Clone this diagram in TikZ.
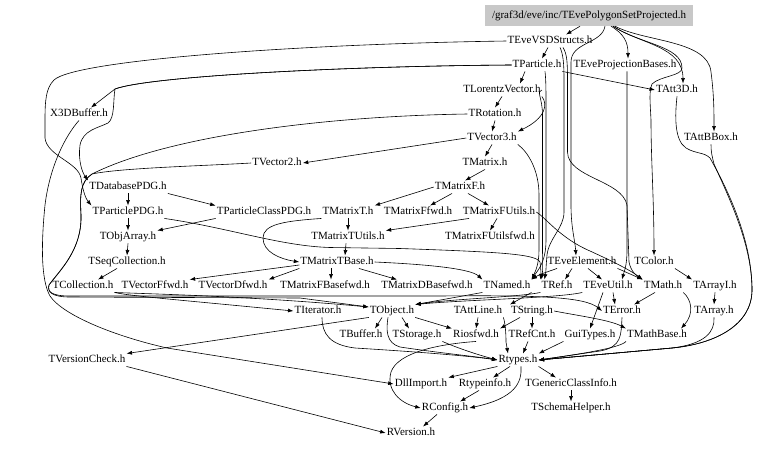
\documentclass[tikz,border=0pt]{standalone}
\usepackage{fontspec}
\setmainfont{Liberation Serif}
\usetikzlibrary{arrows.meta}
\definecolor{rootgray}{RGB}{200,200,200}
\newcommand\lblfont{\fontsize{11}{12}\selectfont}
\tikzset{
  hn/.style={inner sep=1pt, text height=8pt, text depth=2.5pt, font=\lblfont},
  rootn/.style={hn, fill=rootgray, minimum width=208pt, minimum height=21pt},
  edg/.style={draw=black, line width=0.6pt, -{Latex[length=5.5pt,width=4pt]}},
}
\begin{document}
\begin{tikzpicture}[x=1pt,y=-1pt]
\useasboundingbox (0,0) rectangle (779,448);
\fill[white] (0,0) rectangle (779,448);
% nodes
\node[rootn] (root) at (589,15.5) {/graf3d/eve/inc/TEvePolygonSetProjected.h};
\node[hn] (TEveVSDStructs) at (550,41) {TEveVSDStructs.h};
\node[hn] (TParticle) at (537,65) {TParticle.h};
\node[hn] (TEveProjectionBases) at (625,65) {TEveProjectionBases.h};
\node[hn] (X3DBuffer) at (79,114) {X3DBuffer.h};
\node[hn] (TLorentzVector) at (502,90) {TLorentzVector.h};
\node[hn] (TAtt3D) at (677,90) {TAtt3D.h};
\node[hn] (TRotation) at (495,114) {TRotation.h};
\node[hn] (TVector3) at (492,138) {TVector3.h};
\node[hn] (TAttBBox) at (711,138) {TAttBBox.h};
\node[hn] (TVector2) at (277,163) {TVector2.h};
\node[hn] (TMatrix) at (485,163) {TMatrix.h};
\node[hn] (TDatabasePDG) at (128,187) {TDatabasePDG.h};
\node[hn] (TMatrixF) at (460,187) {TMatrixF.h};
\node[hn] (TParticlePDG) at (128,212) {TParticlePDG.h};
\node[hn] (TParticleClassPDG) at (264,212) {TParticleClassPDG.h};
\node[hn] (TMatrixT) at (348,212) {TMatrixT.h};
\node[hn] (TMatrixFfwd) at (418,212) {TMatrixFfwd.h};
\node[hn] (TMatrixFUtils) at (499,212) {TMatrixFUtils.h};
\node[hn] (TObjArray) at (128,237) {TObjArray.h};
\node[hn] (TMatrixTUtils) at (348,237) {TMatrixTUtils.h};
\node[hn] (TMatrixFUtilsfwd) at (490,237) {TMatrixFUtilsfwd.h};
\node[hn] (TSeqCollection) at (127,262) {TSeqCollection.h};
\node[hn] (TMatrixTBase) at (337,262) {TMatrixTBase.h};
\node[hn] (TEveElement) at (582,262) {TEveElement.h};
\node[hn] (TColor) at (654,262) {TColor.h};
\node[hn] (TCollection) at (83,286) {TCollection.h};
\node[hn] (TVectorFfwd) at (155,286) {TVectorFfwd.h};
\node[hn] (TVectorDfwd) at (233,286) {TVectorDfwd.h};
\node[hn] (TMatrixFBasefwd) at (325,286) {TMatrixFBasefwd.h};
\node[hn] (TMatrixDBasefwd) at (427,286) {TMatrixDBasefwd.h};
\node[hn] (TNamed) at (507,286) {TNamed.h};
\node[hn] (TRef) at (557,286) {TRef.h};
\node[hn] (TEveUtil) at (608,286) {TEveUtil.h};
\node[hn] (TMath) at (663,286) {TMath.h};
\node[hn] (TArrayI) at (715,286) {TArrayI.h};
\node[hn] (TIterator) at (318,311) {TIterator.h};
\node[hn] (TObject) at (392,311) {TObject.h};
\node[hn] (TAttLine) at (478,311) {TAttLine.h};
\node[hn] (TString) at (532,311) {TString.h};
\node[hn] (TError) at (622,311) {TError.h};
\node[hn] (TArray) at (714,311) {TArray.h};
\node[hn] (TBuffer) at (361,335) {TBuffer.h};
\node[hn] (TStorage) at (417,335) {TStorage.h};
\node[hn] (Riosfwd) at (476,335) {Riosfwd.h};
\node[hn] (TRefCnt) at (532,335) {TRefCnt.h};
\node[hn] (GuiTypes) at (590,335) {GuiTypes.h};
\node[hn] (TMathBase) at (657,335) {TMathBase.h};
\node[hn] (TVersionCheck) at (87,360) {TVersionCheck.h};
\node[hn] (Rtypes) at (518,360) {Rtypes.h};
\node[hn] (DllImport) at (421,384) {DllImport.h};
\node[hn] (Rtypeinfo) at (485,384) {Rtypeinfo.h};
\node[hn] (TGenericClassInfo) at (571,384) {TGenericClassInfo.h};
\node[hn] (RConfig) at (445,408) {RConfig.h};
\node[hn] (TSchemaHelper) at (571,408) {TSchemaHelper.h};
\node[hn] (RVersion) at (411,433) {RVersion.h};
% root edges
\draw[edg] ([xshift=-9pt]root.south) -- ([xshift=16pt]TEveVSDStructs.north);
\draw[edg] ([xshift=22pt]root.south) .. controls (624,34) and (628,42) .. ([xshift=3pt]TEveProjectionBases.north);
\draw[edg] ([xshift=24pt]root.south) .. controls (640,44) and (683,46) .. ([xshift=6pt]TAtt3D.north);
\draw[edg] ([xshift=26pt]root.south) .. controls (645,42) and (708,40) .. (711,72) .. controls (714,95) and (714,112) .. ([xshift=3pt]TAttBBox.north);
\draw[edg] ([xshift=24pt]root.south) .. controls (640,44) and (682,46) .. (682,68) .. controls (682,76) and (660,76) .. (652,84) .. controls (649,92) and (650,100) .. (651,120) .. controls (651,160) and (654,200) .. (TColor.north);
\draw[edg] ([xshift=16pt]root.south) .. controls (602,44) and (571,42) .. (571,62) -- (571,205) .. controls (571,228) and (575,240) .. ([xshift=-6pt]TEveElement.north);
% TEveVSDStructs
\draw[edg] ([xshift=-2pt]TEveVSDStructs.south) -- ([xshift=5pt]TParticle.north);
\draw[edg] (TEveVSDStructs.west) .. controls (300,44) and (75,60) .. (54,80) .. controls (46,88) and (45,100) .. (45,120) -- (45,138) .. controls (47,156) and (78,162) .. (81,178) .. controls (83,192) and (86,199) .. (TParticlePDG.north west);
\draw[edg] ([xshift=10pt]TEveVSDStructs.south) .. controls (563,54) and (564,62) .. (564,80) -- (564,212) .. controls (564,228) and (549,238) .. (547,255) .. controls (546,266) and (546,272) .. ([xshift=4pt]TRef.north west);
\draw[edg] ([xshift=13pt]TEveVSDStructs.south) .. controls (567,54) and (567.5,62) .. (567.5,80) -- (567.5,152) .. controls (568,178) and (622,180) .. (627,205) -- (629,262) .. controls (631,272) and (637,276) .. (TMath.north west);
% TParticle
\draw[edg] ([xshift=-12pt]TParticle.south) -- ([xshift=18pt]TLorentzVector.north);
\draw[edg] (TParticle.west) .. controls (350,66) and (150,76) .. (115,89) -- ([xshift=12pt]X3DBuffer.north);
\draw[edg] (TParticle.west) .. controls (350,66) and (150,76) .. (115,89) .. controls (113,100) and (115,118) .. (108,123) .. controls (98,128) and (83,130) .. (80,145) .. controls (78,160) and (82,172) .. (TDatabasePDG.north west);
\draw[edg] (TParticle.south east) -- (TAtt3D.west);
\draw[edg] ([xshift=8pt]TParticle.south) .. controls (546,80) and (546,90) .. (546,110) -- (546,240) .. controls (546,262) and (538,270) .. (TNamed.north east);
\draw[edg] ([xshift=2pt]TEveProjectionBases.south) -- (627,250) .. controls (627,266) and (624,272) .. ([xshift=14pt]TEveUtil.north);
% TLorentzVector / TRotation / TVector3
\draw[edg] (TLorentzVector.south) -- (TRotation.north);
\draw[edg] (TLorentzVector.south east) .. controls (548,104) and (546,118) .. (TVector3.north east);
\draw[edg] (TLorentzVector.east) .. controls (536,91) and (542.5,98) .. (542.5,115) -- (542.5,245) .. controls (542.5,262) and (543,270) .. ([xshift=1pt]TRef.north west);
\draw[edg] (TRotation.south) -- (TVector3.north);
\draw[edg] (TRotation.west) .. controls (330,116) and (170,135) .. (92,174) .. controls (80,182) and (80,195) .. (81,215) .. controls (82,250) and (60,270) .. (49,285) .. controls (47,292) and (52,297) .. (70,297) -- (300,298) -- ([yshift=4pt]TObject.west);
\draw[edg] (TVector3.south) -- (TMatrix.north);
\draw[edg] (TVector3.west) -- (TVector2.east);
\draw[edg] (TVector3.south east) .. controls (528,152) and (539,170) .. (539,195) -- (539,250) .. controls (539,265) and (535,272) .. (TNamed.north east);
\draw[edg] (TVector2.west) .. controls (200,166) and (120,168) .. (92,174) .. controls (80,182) and (80,195) .. (81,215) .. controls (82,250) and (60,270) .. (49,285) .. controls (47,292) and (52,296) .. (70,296) -- (440,296) .. controls (540,295) and (585,297) .. (TError.west);
% matrix
\draw[edg] (TMatrix.south) -- ([xshift=5pt]TMatrixF.north);
\draw[edg] (TMatrixF.west) -- (TMatrixT.north east);
\draw[edg] ([xshift=-8pt]TMatrixF.south) -- ([xshift=12pt]TMatrixFfwd.north);
\draw[edg] ([xshift=8pt]TMatrixF.south) -- ([xshift=-10pt]TMatrixFUtils.north);
\draw[edg] ([xshift=-2pt]TMatrixFUtils.south) -- (TMatrixFUtilsfwd.north);
\draw[edg] ([xshift=-30pt]TMatrixFUtils.south) -- (TMatrixTUtils.north east);
\draw[edg] (TMatrixFUtils.east) .. controls (546,218) and (560,238) .. (590,251) .. controls (612,261) and (630,270) .. (TMath.north west);
\draw[edg] (TMatrixT.south) -- (TMatrixTUtils.north);
\draw[edg] (TMatrixT.south west) .. controls (285,221) and (263,224) .. (263,238) .. controls (263,252) and (280,259) .. (TMatrixTBase.west);
\draw[edg] ([xshift=-2pt]TMatrixTUtils.south) -- ([xshift=8pt]TMatrixTBase.north);
\draw[edg] ([yshift=-3pt]TMatrixTBase.west) -- (TVectorFfwd.north east);
\draw[edg] (TMatrixTBase.south west) -- (TVectorDfwd.north east);
\draw[edg] ([xshift=-6pt]TMatrixTBase.south) -- ([xshift=6pt]TMatrixFBasefwd.north);
\draw[edg] ([xshift=22pt]TMatrixTBase.south) -- ([xshift=-30pt]TMatrixDBasefwd.north);
\draw[edg] (TMatrixTBase.east) .. controls (420,264) and (470,268) .. (TNamed.north west);
% PDG / collections
\draw[edg] (TDatabasePDG.south) -- (TParticlePDG.north);
\draw[edg] (TDatabasePDG.south east) -- (TParticleClassPDG.north west);
\draw[edg] (TParticlePDG.south) -- (TObjArray.north);
\draw[edg] (TParticlePDG.south east) .. controls (230,228) and (280,246) .. (330,247.5) -- (400,248.5) .. controls (500,252) and (536,254) .. (540,262) .. controls (541,270) and (541,274) .. (TRef.north west);
\draw[edg] (TParticleClassPDG.south west) -- (TObjArray.north east);
\draw[edg] (TObjArray.south) -- (TSeqCollection.north);
\draw[edg] ([xshift=-10pt]TSeqCollection.south) -- ([xshift=15pt]TCollection.north);
\draw[edg] (TCollection.south east) .. controls (130,296) and (170,299) .. (TIterator.west);
\draw[edg] (TCollection.south east) .. controls (150,294) and (250,296) .. ([yshift=4pt]TObject.west);
\draw[edg] (X3DBuffer.south) .. controls (66,135) and (50,165) .. (45,205) .. controls (41,245) and (41,280) .. (50,296) .. controls (62,314) and (110,335) .. (167,348) -- (DllImport.west);
% TEveElement row
\draw[edg] ([xshift=-10pt]TEveElement.south) -- ([xshift=8pt]TRef.north);
\draw[edg] ([xshift=6pt]TEveElement.south) -- ([xshift=-6pt]TEveUtil.north);
\draw[edg] ([xshift=-25pt]TEveElement.south) .. controls (550,271) and (540,274) .. (TNamed.north east);
\draw[edg] (TEveElement.south east) -- (TMath.north west);
\draw[edg] (TColor.south east) -- (TArrayI.north west);
% row 286 -> 311
\draw[edg] (TNamed.south west) -- (TObject.north east);
\draw[edg] (TRef.south west) .. controls (520,297) and (450,299) .. (TObject.north east);
\draw[edg] (TEveUtil.south west) .. controls (560,298) and (460,300) .. (TObject.north east);
\draw[edg] (TNamed.south east) -- (TString.north west);
\draw[edg] ([xshift=5pt]TEveUtil.south) -- ([xshift=-7pt]TError.north);
\draw[edg] ([xshift=-5pt]TEveUtil.south) -- (GuiTypes.north);
\draw[edg] ([xshift=-8pt]TMath.south) -- ([xshift=12pt]TError.north);
\draw[edg] (TMath.south east) .. controls (692,300) and (694,314) .. ([xshift=24pt]TMathBase.north);
\draw[edg] (TArrayI.south) -- (TArray.north);
% row 311 -> 335
\draw[edg] (TString.east) .. controls (580,316) and (610,320) .. (TMathBase.north west);
\draw[edg] (TString.south) -- (TRefCnt.north);
\draw[edg] ([xshift=-12pt]TString.south) -- (Riosfwd.north east);
\draw[edg] (TAttLine.south) -- (Riosfwd.north);
\draw[edg] (TAttLine.south east) .. controls (505,322) and (506,332) .. (506,342) -- ([xshift=-10pt]Rtypes.north);
\draw[edg] (TObject.south west) -- (TVersionCheck.north east);
\draw[edg] ([xshift=-10pt]TObject.south) -- ([xshift=14pt]TBuffer.north);
\draw[edg] ([xshift=10pt]TObject.south) -- ([xshift=-8pt]TStorage.north);
\draw[edg] (TObject.south east) -- (Riosfwd.north west);
% to Rtypes
\draw[edg] ([xshift=-4pt]TObject.south) .. controls (386,330) and (386,343) .. (400,347) .. controls (440,353) and (480,357) .. (Rtypes.west);
\draw[edg] (TStorage.south east) .. controls (455,347) and (475,354) .. (Rtypes.west);
\draw[edg] ([xshift=4pt]TIterator.south) .. controls (322,334) and (330,345) .. (355,348) .. controls (420,352) and (470,356) .. (Rtypes.west);
\draw[edg] ([xshift=-4pt]TRefCnt.south) -- ([xshift=5pt]Rtypes.north);
\draw[edg] (GuiTypes.south west) -- (Rtypes.north east);
\draw[edg] (TError.south) .. controls (621,335) and (622,347) .. (600,351) -- (Rtypes.east);
\draw[edg] (TMathBase.south west) .. controls (620,348) and (580,354) .. (Rtypes.east);
\draw[edg] (TArray.south) .. controls (715,332) and (705,344) .. (672,348) -- (Rtypes.east);
\draw[edg] (TAtt3D.south) .. controls (675,115) and (674,140) .. (686,148) .. controls (696,154) and (704,152) .. (710,158) .. controls (728,190) and (752,240) .. (752,290) .. controls (752,325) and (715,344) .. (672,348) -- (Rtypes.east);
\draw[edg] (TAttBBox.south) .. controls (711,152) and (712,156) .. (714,164) .. controls (730,200) and (752,245) .. (752,290) .. controls (752,325) and (715,344) .. (672,348) -- (Rtypes.east);
% bottom
\draw[edg] (Riosfwd.south) .. controls (440,344) and (398,352) .. (391,372) .. controls (386,390) and (400,403) .. (RConfig.west);
\draw[edg] (Rtypes.south west) -- (DllImport.north east);
\draw[edg] ([xshift=-8pt]Rtypes.south) -- ([xshift=8pt]Rtypeinfo.north);
\draw[edg] (Rtypes.south east) -- ([xshift=-15pt]TGenericClassInfo.north);
\draw[edg] ([xshift=3pt]Rtypes.south) .. controls (522,382) and (516,398) .. (RConfig.east);
\draw[edg] ([xshift=-6pt]Rtypeinfo.south) -- ([xshift=15pt]RConfig.north);
\draw[edg] (TGenericClassInfo.south) -- (TSchemaHelper.north);
\draw[edg] ([xshift=-8pt]RConfig.south) -- ([xshift=12pt]RVersion.north);
\draw[edg] (TVersionCheck.south east) -- (RVersion.west);
\end{tikzpicture}
\end{document}
